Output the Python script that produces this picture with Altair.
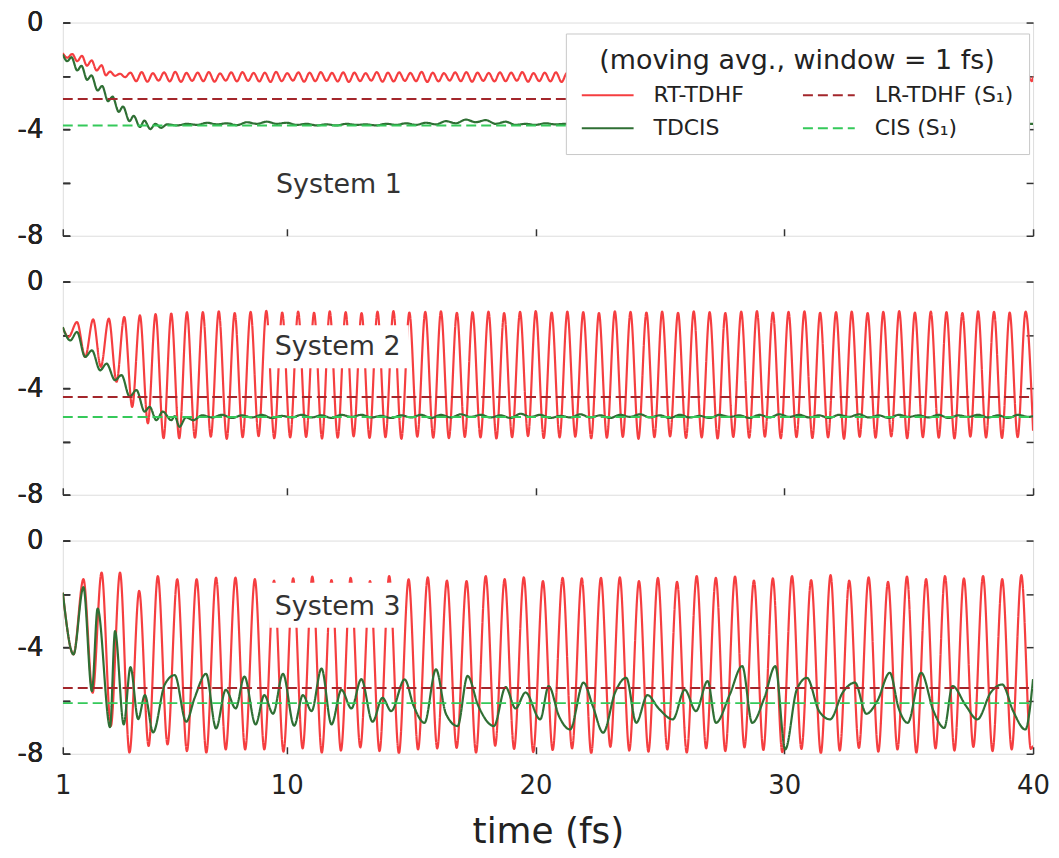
import altair as alt
import pandas as pd

FONT = "DejaVu Sans"
SERIES = ["RT-TDHF", "LR-TDHF (S₁)", "TDCIS", "CIS (S₁)"]
SERIES_COLORS = ["#f53e40", "#a3262b", "#2f6f34", "#35c95a"]
SERIES_DASHES = [[1, 0], [10, 5], [1, 0], [10, 5]]
LEGEND_TITLE = "(moving avg., window = 1 fs)"

X_TICKS = [1, 10, 20, 30, 40]
Y_TICKS = [0, -2, -4, -6, -8]
T_RANGE = [1, 40]

PANEL_LABELS = ["System 1", "System 2", "System 3"]
LABEL_T = [12.1, 12.05, 12.05]
LABEL_V = [-6.1, -2.45, -2.48]
BOX_T1 = [9.2, 9.2, 9.3]
BOX_T2 = [14.9, 14.9, 14.7]
BOX_V1 = [-5.3, -1.64, -1.58]
BOX_V2 = [-6.9, -3.25, -3.27]

LR_TDHF = [-2.87, -4.33, -5.53]
CIS_S1 = [-3.86, -5.08, -6.10]

# ---------------- System 1 ----------------
P1_RED_PEAK_T = [1.00, 1.38, 1.77, 2.16, 2.56, 2.90, 3.30,
    3.72, 4.17, 4.62, 5.07, 5.52, 5.97, 6.42, 6.87, 7.32, 7.77,
    8.22, 8.67, 9.12, 9.57, 10.02, 10.47, 10.92, 11.37, 11.82, 12.27,
    12.72, 13.17, 13.62, 14.07, 14.52, 14.97, 15.42, 15.87, 16.32, 16.77,
    17.22, 17.67, 18.12, 18.57, 19.02, 19.47, 19.92, 20.37, 20.82, 21.27,
    21.72, 22.17, 22.62, 23.07, 23.52, 23.97, 24.42, 24.87, 25.32, 25.77,
    26.22, 26.67, 27.12, 27.57, 28.02, 28.47, 28.92, 29.37, 29.82, 30.27,
    30.72, 31.17, 31.62, 32.07, 32.52, 32.97, 33.42, 33.87, 34.32, 34.77,
    35.22, 35.67, 36.12, 36.57, 37.02, 37.47, 37.92, 38.37, 38.82, 39.27,
    39.72, 40.00]
P1_RED_PEAK_V = [-1.15, -1.18, -1.25, -1.42, -1.60, -1.84, -1.92,
    -1.88, -1.86, -1.90, -1.87, -1.85, -1.89, -1.88, -1.86, -1.91, -1.87,
    -1.86, -1.89, -1.88, -1.85, -1.90, -1.87, -1.88, -1.86, -1.89, -1.87,
    -1.88, -1.90, -1.86, -1.88, -1.87, -1.89, -1.85, -1.88, -1.90, -1.87,
    -1.86, -1.88, -1.89, -1.87, -1.88, -1.86, -1.90, -1.88, -1.87, -1.89,
    -1.88, -1.86, -1.90, -1.87, -1.85, -1.89, -1.88, -1.86, -1.91, -1.87,
    -1.86, -1.89, -1.88, -1.85, -1.90, -1.87, -1.88, -1.86, -1.89, -1.87,
    -1.88, -1.90, -1.86, -1.88, -1.87, -1.89, -1.85, -1.88, -1.90, -1.87,
    -1.86, -1.88, -1.89, -1.87, -1.88, -1.86, -1.90, -1.88, -1.87, -1.89,
    -1.88, -2.02]
P1_RED_TROUGH_T = [1.18, 1.58, 1.97, 2.36, 2.73, 3.10, 3.50,
    3.95, 4.40, 4.85, 5.30, 5.75, 6.20, 6.65, 7.10, 7.55, 8.00,
    8.45, 8.90, 9.35, 9.80, 10.25, 10.70, 11.15, 11.60, 12.05, 12.50,
    12.95, 13.40, 13.85, 14.30, 14.75, 15.20, 15.65, 16.10, 16.55, 17.00,
    17.45, 17.90, 18.35, 18.80, 19.25, 19.70, 20.15, 20.60, 21.05, 21.50,
    21.95, 22.40, 22.85, 23.30, 23.75, 24.20, 24.65, 25.10, 25.55, 26.00,
    26.45, 26.90, 27.35, 27.80, 28.25, 28.70, 29.15, 29.60, 30.05, 30.50,
    30.95, 31.40, 31.85, 32.30, 32.75, 33.20, 33.65, 34.10, 34.55, 35.00,
    35.45, 35.90, 36.35, 36.80, 37.25, 37.70, 38.15, 38.60, 39.05, 39.50,
    39.95]
P1_RED_TROUGH_V = [-1.32, -1.45, -1.62, -1.80, -1.98, -2.00, -2.05,
    -2.20, -2.22, -2.18, -2.21, -2.23, -2.19, -2.20, -2.22, -2.18, -2.21,
    -2.19, -2.21, -2.23, -2.20, -2.18, -2.22, -2.20, -2.19, -2.21, -2.23,
    -2.20, -2.18, -2.22, -2.21, -2.19, -2.20, -2.23, -2.21, -2.18, -2.20,
    -2.22, -2.19, -2.21, -2.20, -2.18, -2.22, -2.20, -2.21, -2.23, -2.19,
    -2.20, -2.22, -2.18, -2.21, -2.23, -2.19, -2.20, -2.22, -2.18, -2.21,
    -2.19, -2.21, -2.23, -2.20, -2.18, -2.22, -2.20, -2.19, -2.21, -2.23,
    -2.20, -2.18, -2.22, -2.21, -2.19, -2.20, -2.23, -2.21, -2.18, -2.20,
    -2.22, -2.19, -2.21, -2.20, -2.18, -2.22, -2.20, -2.21, -2.23, -2.19,
    -2.20]
P1_CIS_T = [1.00, 1.18, 1.35, 1.58, 1.75, 1.98, 2.15, 2.40, 2.58, 2.82,
    3.00, 3.25, 3.42, 3.68, 3.85, 4.10, 4.28, 4.52, 4.72, 4.95, 5.20,
    5.60, 6.00, 6.40, 6.80, 7.20, 7.60, 8.00, 8.40, 8.80, 9.20,
    9.60, 10.00, 10.40, 10.80, 11.20, 11.60, 12.00, 12.40, 12.80, 13.20,
    13.60, 14.00, 14.40, 14.80, 15.20, 15.60, 16.00, 16.40, 16.80, 17.20,
    17.60, 18.00, 18.40, 18.80, 19.20, 19.60, 20.00, 20.40, 20.80, 21.20,
    22.00, 24.00, 26.00, 28.00, 30.00, 32.00, 34.00, 36.00, 38.00, 40.00]
P1_CIS_V = [-1.20, -1.45, -1.30, -1.80, -1.62, -2.15, -1.98, -2.55, -2.38, -2.95,
    -2.78, -3.35, -3.15, -3.70, -3.50, -3.92, -3.68, -4.00, -3.80, -3.95, -3.82,
    -3.86, -3.80, -3.84, -3.76, -3.82, -3.78, -3.85, -3.74, -3.80, -3.72,
    -3.80, -3.76, -3.84, -3.80, -3.86, -3.82, -3.86, -3.80, -3.84, -3.82,
    -3.86, -3.80, -3.84, -3.78, -3.84, -3.76, -3.82, -3.70, -3.78, -3.64,
    -3.74, -3.66, -3.80, -3.72, -3.84, -3.80, -3.84, -3.78, -3.82, -3.80,
    -3.84, -3.80, -3.82, -3.78, -3.82, -3.80, -3.84, -3.80, -3.82, -3.80]

# ---------------- System 2 ----------------
P2_RED_PEAK_T = [1.00,
    1.57, 2.22, 2.85, 3.47, 4.10, 4.73, 5.36, 5.99, 6.63, 7.27,
    7.91, 8.55, 9.18, 9.82, 10.46, 11.10, 11.73, 12.37, 13.01, 13.65,
    14.29, 14.93, 15.57, 16.20, 16.84, 17.47, 18.11, 18.74, 19.38, 20.01,
    20.65, 21.28, 21.92, 22.55, 23.19, 23.82, 24.46, 25.09, 25.73, 26.36,
    27.00, 27.63, 28.27, 28.90, 29.54, 30.17, 30.81, 31.44, 32.08, 32.71,
    33.35, 33.98, 34.62, 35.25, 35.89, 36.52, 37.16, 37.79, 38.43, 39.06,
    39.70]
P2_RED_PEAK_V = [-1.72,
    -1.52, -1.42, -1.39, -1.33, -1.27, -1.22, -1.20, -1.15,
    -1.15, -1.12, -1.18, -1.14, -1.10, -1.16, -1.13, -1.17, -1.12, -1.15,
    -1.18, -1.13, -1.11, -1.16, -1.14, -1.12, -1.17, -1.15, -1.13, -1.18,
    -1.14, -1.11, -1.16, -1.13, -1.15, -1.18, -1.12, -1.14, -1.16, -1.13,
    -1.17, -1.12, -1.15, -1.18, -1.13, -1.11, -1.16, -1.14, -1.12, -1.17,
    -1.15, -1.13, -1.18, -1.14, -1.11, -1.16, -1.13, -1.15, -1.18, -1.12,
    -1.14, -1.16, -1.13]
P2_RED_TROUGH_T = [1.23, 1.90, 2.53, 3.16, 3.79, 4.42, 5.05, 5.68,
    6.31, 6.95, 7.59, 8.23, 8.87, 9.50, 10.14, 10.78, 11.42, 12.05,
    12.69, 13.33, 13.97, 14.61, 15.25, 15.89, 16.52, 17.16, 17.79, 18.43,
    19.06, 19.70, 20.33, 20.97, 21.60, 22.24, 22.87, 23.51, 24.14, 24.78,
    25.41, 26.05, 26.68, 27.32, 27.95, 28.59, 29.22, 29.86, 30.49, 31.13,
    31.76, 32.40, 33.03, 33.67, 34.30, 34.94, 35.57, 36.21, 36.84, 37.48,
    38.11, 38.75, 39.38, 40.00]
P2_RED_TROUGH_V = [-2.08, -2.83, -3.20, -3.76, -4.70, -5.32, -5.88, -5.88,
    -5.86, -5.82, -5.90, -5.84, -5.80, -5.88, -5.85, -5.83, -5.89, -5.86,
    -5.81, -5.87, -5.84, -5.90, -5.82, -5.86, -5.88, -5.83, -5.85, -5.89,
    -5.84, -5.80, -5.87, -5.85, -5.82, -5.88, -5.86, -5.83, -5.90, -5.84,
    -5.81, -5.87, -5.85, -5.89, -5.83, -5.86, -5.82, -5.88, -5.84, -5.87,
    -5.85, -5.90, -5.83, -5.86, -5.81, -5.88, -5.84, -5.86, -5.89, -5.82,
    -5.85, -5.87, -5.84, -5.60]
P2_CIS_T = [1.00, 1.30, 1.57, 1.90, 2.17, 2.50, 2.76, 3.10, 3.36, 3.69,
    3.96, 4.29, 4.49, 4.76, 5.02, 5.36, 5.50, 5.69, 5.95, 6.25, 6.60, 7.00,
    7.4, 7.8, 8.2, 8.6, 9.0, 9.4, 9.8, 10.2, 10.6, 11.0,
    11.4, 11.8, 12.2, 12.6, 13.0, 13.4, 13.8, 14.2, 14.6, 15.0,
    15.4, 15.8, 16.2, 16.6, 17.0, 17.4, 17.8, 18.2, 18.6, 19.0,
    19.4, 19.8, 20.2, 20.6, 21.0, 21.4, 21.8, 22.2, 22.6, 23.0,
    23.4, 23.8, 24.2, 24.6, 25.0, 25.4, 25.8, 26.2, 26.6, 27.0,
    27.4, 27.8, 28.2, 28.6, 29.0, 29.4, 29.8, 30.2, 30.6, 31.0,
    31.4, 31.8, 32.2, 32.6, 33.0, 33.4, 33.8, 34.2, 34.6, 35.0,
    35.4, 35.8, 36.2, 36.6, 37.0, 37.4, 37.8, 38.2, 38.6, 39.0,
    39.4, 39.8, 40.0]
P2_CIS_V = [-1.71, -2.21, -1.89, -2.83, -2.58, -3.33, -3.08, -3.70, -3.51, -4.32,
    -4.07, -4.88, -4.70, -5.20, -4.88, -5.20, -5.05, -5.45, -5.10, -5.20, -5.02, -5.10,
    -5.00, -5.12, -5.02, -5.10, -5.00, -5.12, -5.04, -5.10, -5.00, -5.10,
    -5.02, -5.12, -5.00, -5.08, -5.00, -5.10, -5.04, -5.12, -5.02, -5.10,
    -5.00, -5.12, -5.00, -5.10, -4.98, -5.08, -5.00, -5.10, -5.02, -5.12,
    -4.96, -5.08, -5.00, -5.12, -5.04, -5.10, -4.98, -5.10, -5.02, -5.12,
    -5.00, -5.08, -4.98, -5.10, -5.02, -5.12, -5.00, -5.10, -5.04, -5.12,
    -5.00, -5.08, -5.02, -5.12, -5.00, -5.10, -4.98, -5.08, -5.00, -5.10,
    -5.02, -5.12, -5.00, -5.08, -4.98, -5.10, -5.02, -5.12, -5.00, -5.08,
    -5.02, -5.10, -5.00, -5.12, -5.02, -5.08, -5.00, -5.10, -5.02, -5.12,
    -5.00, -5.08, -5.05]

# ---------------- System 3 ----------------
P3_RED_PEAK_T = [1.00,
    1.83, 2.56, 3.30, 4.07, 4.82, 5.60, 6.38, 7.16, 7.94, 8.72,
    9.49, 10.26, 11.03, 11.80, 12.57, 13.35, 14.12, 14.90, 15.67, 16.44,
    17.23, 18.00, 18.76, 19.53, 20.30, 21.09, 21.86, 22.63, 23.39, 24.16,
    24.92, 25.69, 26.48, 27.25, 28.02, 28.78, 29.54, 30.31, 31.08, 31.86,
    32.61, 33.39, 34.17, 34.93, 35.70, 36.46, 37.22, 37.99, 38.76, 39.53]
P3_RED_PEAK_V = [-1.95,
    -1.45, -1.20, -1.20, -1.89, -1.33, -1.45, -1.45, -1.39, -1.39, -1.45,
    -1.50, -1.42, -1.35, -1.48, -1.40, -1.52, -1.33, -1.45, -1.38, -1.50,
    -1.52, -1.33, -1.45, -1.38, -1.52, -1.40, -1.42, -1.40, -1.38, -1.52,
    -1.40, -1.55, -1.33, -1.40, -1.35, -1.50, -1.42, -1.33, -1.48, -1.30,
    -1.50, -1.38, -1.55, -1.35, -1.45, -1.33, -1.42, -1.33, -1.45, -1.30]
P3_RED_TROUGH_T = [1.43, 2.20, 2.93, 3.68, 4.45, 5.21, 5.99, 6.77, 7.55, 8.33,
    9.10, 9.87, 10.64, 11.41, 12.18, 12.96, 13.73, 14.51, 15.28, 16.05,
    16.83, 17.61, 18.38, 19.14, 19.91, 20.69, 21.47, 22.24, 23.01, 23.77,
    24.54, 25.30, 26.08, 26.86, 27.63, 28.40, 29.16, 29.92, 30.69, 31.47,
    32.23, 33.00, 33.78, 34.55, 35.31, 36.08, 36.84, 37.60, 38.37, 39.14,
    39.91, 40.00]
P3_RED_TROUGH_V = [-4.27, -5.71, -6.96, -7.96, -7.71, -7.65, -7.90, -7.96, -7.84, -7.84,
    -7.84, -7.92, -7.80, -7.96, -7.88, -7.76, -7.90, -7.98, -7.84, -7.80,
    -7.78, -7.96, -7.70, -7.82, -7.94, -7.86, -7.80, -7.98, -7.74, -7.88,
    -7.92, -7.84, -7.96, -7.80, -7.90, -7.76, -7.86, -7.94, -7.82, -7.98,
    -7.88, -7.78, -7.92, -7.84, -7.96, -7.80, -7.88, -7.74, -7.90, -7.84,
    -7.82, -7.70]
P3_CIS_T = [1.00, 1.43, 1.83, 2.17, 2.40, 2.90, 3.10, 3.45, 3.72, 4.03,
    4.30, 4.63, 5.10, 5.50, 5.96, 6.30, 6.76, 7.16, 7.55, 7.95,
    8.30, 8.75, 9.10, 9.45, 9.85, 10.30, 10.65, 11.00, 11.40, 11.80,
    12.20, 12.60, 13.00, 13.45, 13.85, 14.20, 14.74, 15.10, 15.54, 16.00,
    16.40, 16.87, 17.27, 17.70, 18.33, 18.80, 19.20, 19.60, 20.19, 20.53,
    20.95, 21.39, 21.93, 22.30, 22.72, 23.20, 23.65, 24.05, 24.50, 24.95,
    25.52, 26.00, 26.45, 26.92, 27.25, 27.80, 28.31, 28.71, 29.20, 29.64,
    30.04, 30.50, 30.91, 31.40, 31.84, 32.35, 32.84, 33.30, 33.75, 34.24,
    34.60, 34.96, 35.50, 36.00, 36.43, 36.76, 37.30, 37.76, 38.30, 38.76,
    39.20, 39.69, 40.00]
P3_CIS_V = [-1.95, -4.27, -1.75, -5.65, -2.55, -7.00, -3.40, -6.90, -4.75, -6.70,
    -5.80, -7.20, -5.40, -5.05, -6.80, -5.90, -5.00, -7.05, -5.60, -6.30,
    -5.10, -6.90, -5.80, -6.50, -5.00, -6.95, -5.80, -6.40, -4.80, -6.90,
    -5.60, -6.30, -5.20, -6.80, -5.90, -6.40, -5.21, -6.20, -6.84, -4.83,
    -6.50, -6.96, -5.08, -6.20, -6.96, -5.50, -6.30, -5.70, -6.71, -5.46,
    -6.60, -7.09, -5.33, -6.20, -7.21, -5.70, -5.15, -6.84, -5.80, -6.30,
    -6.71, -5.60, -6.40, -5.27, -6.84, -5.80, -4.71, -6.84, -5.90, -4.71,
    -7.84, -5.60, -5.15, -6.40, -6.71, -5.70, -5.33, -6.50, -6.00, -4.96,
    -6.30, -6.84, -4.96, -6.40, -7.03, -5.46, -6.20, -6.71, -5.70, -5.40,
    -6.40, -7.09, -5.20]


def curve(ts, vs, name):
    assert len(ts) == len(vs), (name, len(ts), len(vs))
    return pd.DataFrame({"t": ts, "v": vs, "series": name})


RED_DATA = [
    (P1_RED_PEAK_T + P1_RED_TROUGH_T, P1_RED_PEAK_V + P1_RED_TROUGH_V),
    (P2_RED_PEAK_T + P2_RED_TROUGH_T, P2_RED_PEAK_V + P2_RED_TROUGH_V),
    (P3_RED_PEAK_T + P3_RED_TROUGH_T, P3_RED_PEAK_V + P3_RED_TROUGH_V),
]
GREEN_DATA = [(P1_CIS_T, P1_CIS_V), (P2_CIS_T, P2_CIS_V), (P3_CIS_T, P3_CIS_V)]

X_SCALE = alt.Scale(domain=T_RANGE, nice=False, zero=False)
Y_SCALE = alt.Scale(domain=[-8, 0], nice=False, zero=False)
COLOR_SCALE = alt.Scale(domain=SERIES, range=SERIES_COLORS)
DASH_SCALE = alt.Scale(domain=SERIES, range=SERIES_DASHES)

TICK = dict(tickSize=7, tickColor="#333", tickWidth=1.5, offset=-7, domain=False,
            grid=False, labelFlush=False, labelOverlap=False)


def x_axis(show):
    if show:
        return alt.Axis(values=X_TICKS, format="d", labelFont=FONT, labelFontSize=26,
                        labelColor="#222", labelPadding=19, title="time (fs)",
                        titleFont=FONT, titleFontSize=36, titleFontWeight="normal",
                        titleColor="#222", titlePadding=16, **TICK)
    return alt.Axis(values=X_TICKS, labels=False, title=None, **TICK)


Y_LEFT = alt.Axis(orient="left", values=Y_TICKS,
                  labelExpr="datum.value % 4 == 0 ? toString(datum.value) : ''",
                  labelFont=FONT, labelFontSize=26, labelColor="#222", labelPadding=20,
                  title=None, **TICK)
Y_RIGHT = alt.Axis(orient="right", values=Y_TICKS, labels=False, title=None, **TICK)

LEGEND = alt.Legend(
    title=LEGEND_TITLE, orient="none", legendX=505, legendY=11,
    direction="horizontal", columns=2,
    fillColor="white", strokeColor="#c8c8c8", padding=15,
    titleFont=FONT, titleFontSize=27, titleFontWeight="normal", titleColor="#222",
    titleAnchor="middle", titlePadding=6, titleLimit=1000,
    labelFont=FONT, labelFontSize=22, labelColor="#222", labelOffset=32, labelLimit=400,
    symbolType="M-2,0H2", symbolSize=676, symbolOffset=13, symbolStrokeWidth=2,
    columnPadding=55, rowPadding=8,
)


def panel(i):
    show_x = i == 2
    legend = LEGEND if i == 0 else None
    rt, rv = RED_DATA[i]
    gt, gv = GREEN_DATA[i]
    solid_df = pd.concat([curve(rt, rv, SERIES[0]), curve(gt, gv, SERIES[2])],
                         ignore_index=True)
    dashed_df = pd.concat([
        curve(T_RANGE, [LR_TDHF[i]] * 2, SERIES[1]),
        curve(T_RANGE, [CIS_S1[i]] * 2, SERIES[3]),
    ], ignore_index=True)
    box_df = pd.DataFrame({"t1": [BOX_T1[i]], "t2": [BOX_T2[i]],
                           "v1": [BOX_V1[i]], "v2": [BOX_V2[i]]})
    lab_df = pd.DataFrame({"t": [LABEL_T[i]], "v": [LABEL_V[i]], "text": [PANEL_LABELS[i]]})

    xa = x_axis(show_x)
    color = alt.Color("series:N", scale=COLOR_SCALE, legend=legend)
    dash = alt.StrokeDash("series:N", scale=DASH_SCALE, legend=legend)

    solid = alt.Chart(solid_df).mark_line(interpolate="monotone", strokeWidth=2.2, clip=True).encode(
        x=alt.X("t:Q", scale=X_SCALE, axis=xa),
        y=alt.Y("v:Q", scale=Y_SCALE, axis=Y_LEFT),
        color=color, strokeDash=dash)
    dashed = alt.Chart(dashed_df).mark_line(strokeWidth=2, clip=True).encode(
        x=alt.X("t:Q", scale=X_SCALE, axis=xa),
        y=alt.Y("v:Q", scale=Y_SCALE, axis=Y_RIGHT),
        color=color, strokeDash=dash)
    box = alt.Chart(box_df).mark_rect(fill="white").encode(
        x=alt.X("t1:Q", scale=X_SCALE, axis=xa), x2="t2:Q",
        y=alt.Y("v1:Q", scale=Y_SCALE, axis=Y_LEFT), y2="v2:Q")
    text = alt.Chart(lab_df).mark_text(font=FONT, fontSize=27, color="#333",
                                       align="center", baseline="middle").encode(
        x=alt.X("t:Q", scale=X_SCALE, axis=xa),
        y=alt.Y("v:Q", scale=Y_SCALE, axis=Y_LEFT),
        text="text:N")
    return alt.layer(solid, dashed, box, text).properties(width=974, height=214)


chart = (
    alt.vconcat(panel(0), panel(1), panel(2), spacing=18)
    .resolve_legend(color="independent", strokeDash="independent")
    .properties(padding={"left": 8, "top": -1, "right": 0, "bottom": -2})
    .configure_view(stroke="#555", strokeWidth=1.8)
    .configure_axis(grid=False)
    .configure(font=FONT)
)

chart.save("out.html", embed_options={"renderer": "svg", "actions": False})
